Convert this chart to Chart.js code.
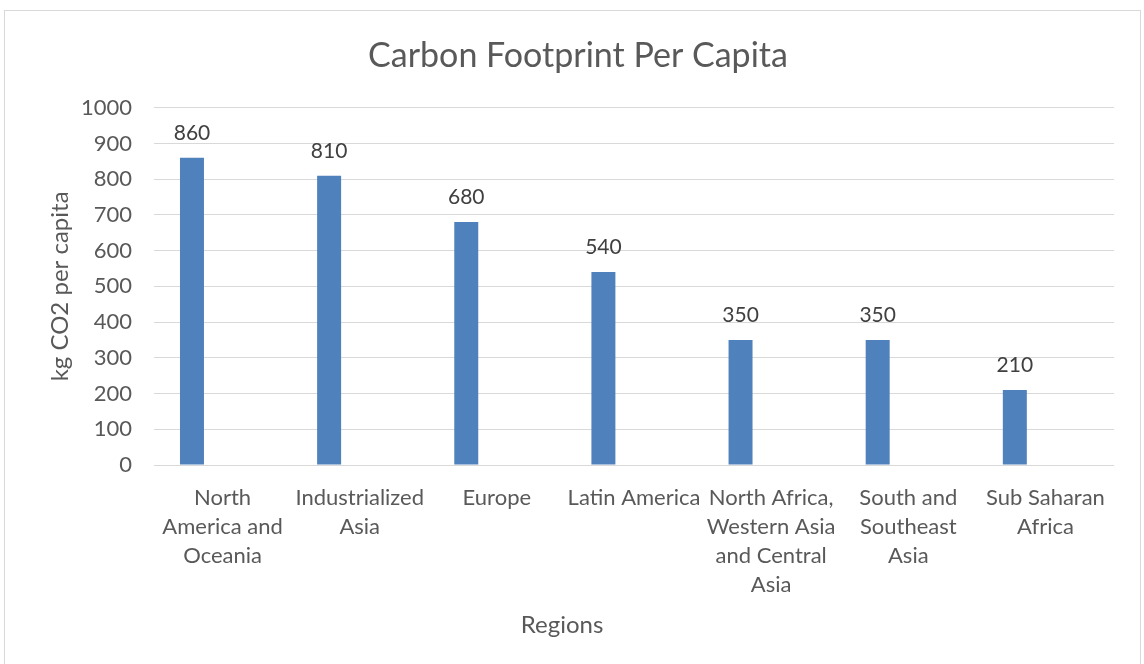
<!DOCTYPE html>
<html>
<head>
<meta charset="utf-8">
<script src="https://cdn.jsdelivr.net/npm/chart.js@4/dist/chart.umd.min.js"></script>
<style>
  html, body { margin: 0; padding: 0; background: #fff; overflow: hidden; }
  #frame {
    position: absolute; left: 4px; top: 10px;
    width: 1137px; height: 700px;
    border: 1px solid #d9d9d9; box-sizing: border-box;
  }
  #wrap { position: absolute; left: 0; top: 0; width: 1144px; height: 664px; }
</style>
</head>
<body>
<div id="frame"></div>
<div id="wrap"><canvas id="graphCarbon"></canvas></div>
<script>
// donnees du graphique
const regions = [
  ["North", "America and", "Oceania"],
  ["Industrialized", "Asia"],
  "Europe",
  "Latin America",
  ["North Africa,", "Western Asia", "and Central", "Asia"],
  ["South and", "Southeast", "Asia"],
  ["Sub Saharan", "Africa"]
];
const footprint = [860, 810, 680, 540, 350, 350, 210];
const emptySeries = [null, null, null, null, null, null, null];
const yTicks = [0, 100, 200, 300, 400, 500, 600, 700, 800, 900, 1000];
const xAxisTitle = "Regions";

const textColor = "#595959";
const gridColor = "#d9d9d9";
const fontFamily = "Lato, 'Open Sans', sans-serif";

// valeurs au-dessus des barres + titre de l'axe X (decale comme dans Excel)
const valueLabels = {
  id: "valueLabels",
  afterDatasetsDraw(chart) {
    const ctx = chart.ctx;
    const meta = chart.getDatasetMeta(0);
    ctx.save();
    ctx.font = "21px " + fontFamily;
    ctx.fillStyle = "#404040";
    ctx.textAlign = "center";
    ctx.textBaseline = "alphabetic";
    meta.data.forEach((bar, i) => {
      ctx.fillText(String(footprint[i]), bar.x, bar.y - 18);
    });

    ctx.font = "24px " + fontFamily;
    ctx.fillStyle = textColor;
    ctx.textBaseline = "middle";
    ctx.fillText(xAxisTitle, 562, 625);
    ctx.restore();
  }
};

document.addEventListener("DOMContentLoaded", function () {
  const ctx = document.getElementById("graphCarbon");
  new Chart(ctx, {
    type: "bar",
    data: {
      labels: regions,
      datasets: [
        {
          label: "Carbon footprint",
          data: footprint,
          backgroundColor: "#4f81bd",
          borderWidth: 0,
          categoryPercentage: 0.8925,
          barPercentage: 0.392
        },
        {
          label: "",
          data: emptySeries,
          backgroundColor: "#c0504d",
          categoryPercentage: 0.8925,
          barPercentage: 0.392
        }
      ]
    },
    plugins: [valueLabels],
    options: {
      responsive: true,
      maintainAspectRatio: false,
      animation: false,
      layout: { padding: { left: 42, right: 30, top: 0, bottom: 0 } },
      plugins: {
        legend: { display: false },
        tooltip: { enabled: false },
        title: {
          display: true,
          text: "Carbon Footprint Per Capita",
          color: textColor,
          font: { family: fontFamily, size: 34, weight: "normal" },
          padding: { top: 36, bottom: 31 }
        }
      },
      scales: {
        x: {
          grid: { display: false },
          border: { display: false },
          ticks: {
            color: textColor,
            font: { family: fontFamily, size: 22, lineHeight: 1.32 },
            padding: 10,
            maxRotation: 0,
            autoSkip: false
          },
          title: { display: false },
          afterFit: (s) => { s.height = 199; }
        },
        y: {
          min: 0,
          max: 1000,
          afterBuildTicks: (s) => { s.ticks = yTicks.map((v) => ({ value: v })); },
          grid: { color: gridColor, lineWidth: 1, drawTicks: false },
          border: { display: false },
          ticks: {
            color: textColor,
            font: { family: fontFamily, size: 22 },
            padding: 22,
            callback: (v) => String(v)
          },
          title: {
            display: true,
            text: "kg CO2 per capita",
            color: textColor,
            font: { family: fontFamily, size: 24, lineHeight: 1.2 },
            padding: { top: 4, bottom: 0 }
          },
          afterFit: (s) => { s.width = 112; }
        }
      }
    }
  });
});
</script>
</body>
</html>
